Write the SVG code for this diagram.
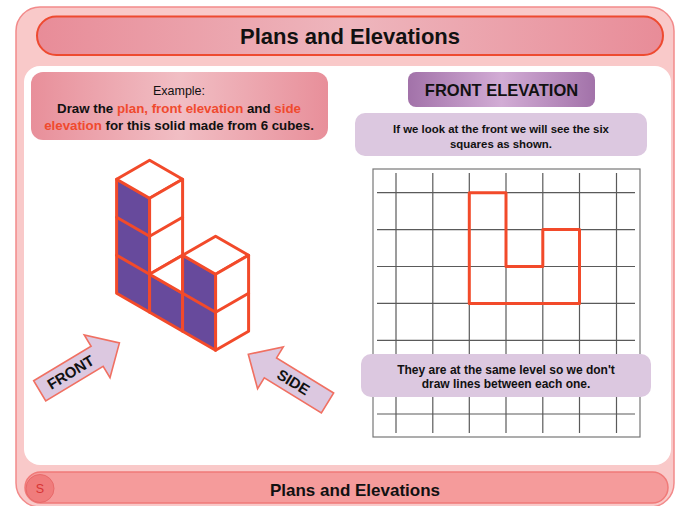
<svg xmlns="http://www.w3.org/2000/svg" width="675" height="506" viewBox="0 0 675 506">
  <defs>
    <linearGradient id="pinkBar" x1="0" y1="0" x2="1" y2="0">
      <stop offset="0" stop-color="#e88c98"/>
      <stop offset="0.5" stop-color="#eeb6bd"/>
      <stop offset="1" stop-color="#e88c98"/>
    </linearGradient>
    <linearGradient id="pinkBox" x1="0" y1="0" x2="1" y2="0">
      <stop offset="0" stop-color="#e88f9a"/>
      <stop offset="0.5" stop-color="#f1bec4"/>
      <stop offset="1" stop-color="#e88f9a"/>
    </linearGradient>
    <linearGradient id="purpleBar" x1="0" y1="0" x2="1" y2="0">
      <stop offset="0" stop-color="#a272a9"/>
      <stop offset="0.5" stop-color="#d2acd5"/>
      <stop offset="1" stop-color="#a272a9"/>
    </linearGradient>
    <style>
      .sans { font-family: "Liberation Sans", Arial, sans-serif; }
      .b { font-weight: bold; }
      .hl { fill: #f04a2e; }
      .face-front { fill: #674a9c; }
      .face-white { fill: #ffffff; }
      .edge { stroke: #f24a2a; stroke-width: 3; stroke-linejoin: round; stroke-linecap: round; fill: none; }
      .cube { stroke: #f24a2a; stroke-width: 3; stroke-linejoin: round; }
      .note { fill: #dcc8e0; }
      .grid line { stroke: #5a5a5a; stroke-width: 1.2; }
      .view-arrow { fill: #dcc8e0; stroke: #f07062; stroke-width: 1.6; stroke-linejoin: miter; }
    </style>
  </defs>

  <!-- outer frame -->
  <rect x="16" y="7" width="658" height="500" rx="24" fill="#f9c9c9" stroke="#f28a8a" stroke-width="1.5"/>
  <!-- white content panel -->
  <rect x="24" y="66" width="647" height="399" rx="16" fill="#ffffff"/>

  <!-- title bar -->
  <g id="title">
    <rect x="37" y="16.5" width="626" height="38.5" rx="19.25" fill="url(#pinkBar)" stroke="#ee4a30" stroke-width="2"/>
    <text x="350" y="44" text-anchor="middle" class="sans b" font-size="22" fill="#111">Plans and Elevations</text>
  </g>

  <!-- task statement -->
  <g id="example">
    <rect x="31" y="72" width="297" height="68" rx="12" fill="url(#pinkBox)"/>
    <text x="179" y="95" text-anchor="middle" class="sans" font-size="12.5" fill="#111">Example:</text>
    <text x="179" y="112.5" text-anchor="middle" class="sans b" font-size="13.3" fill="#111">Draw the <tspan class="hl">plan, front elevation</tspan> and <tspan class="hl">side</tspan></text>
    <text x="179" y="130" text-anchor="middle" class="sans b" font-size="13.3" fill="#111"><tspan class="hl">elevation</tspan> for this solid made from 6 cubes.</text>
  </g>

  <!-- solid of 6 cubes, isometric -->
  <g id="solid">
    <!-- tall column (3 cubes) -->
    <polygon class="cube face-front" points="116.6,293.2 149.6,312.2 149.6,198.2 116.6,179.2"/>
    <polygon class="cube face-white" points="116.6,179.2 149.6,198.2 182.6,179.2 149.6,160.2"/>
    <polygon class="cube face-white" points="149.6,274.2 182.6,255.2 182.6,179.2 149.6,198.2"/>
    <line class="edge" x1="116.6" y1="255.2" x2="149.6" y2="274.2"/>
    <line class="edge" x1="116.6" y1="217.2" x2="149.6" y2="236.2"/>
    <line class="edge" x1="149.6" y1="236.2" x2="182.6" y2="217.2"/>
    <!-- single cube -->
    <polygon class="cube face-front" points="149.6,312.2 182.6,331.2 182.6,293.2 149.6,274.2"/>
    <polygon class="cube face-white" points="149.6,274.2 182.6,293.2 182.6,255.2"/>
    <!-- column of 2 cubes -->
    <polygon class="cube face-front" points="182.6,331.2 215.6,350.2 215.6,274.2 182.6,255.2"/>
    <polygon class="cube face-white" points="182.6,255.2 215.6,274.2 248.6,255.2 215.6,236.2"/>
    <polygon class="cube face-white" points="215.6,350.2 248.6,331.2 248.6,255.2 215.6,274.2"/>
    <line class="edge" x1="182.6" y1="293.2" x2="215.6" y2="312.2"/>
    <line class="edge" x1="215.6" y1="312.2" x2="248.6" y2="293.2"/>
  </g>

  <!-- viewing direction arrows -->
  <g id="connectors">
    <g id="front-arrow" transform="translate(39.7,390.8) rotate(-31)">
      <polygon class="view-arrow" points="0,-11.7 67,-11.7 67,-25 93,0 67,25 67,11.7 0,11.7"/>
      <text x="36" y="5.3" text-anchor="middle" class="sans b" font-size="15" fill="#111">FRONT</text>
    </g>
    <g id="side-arrow" transform="translate(327.5,403) rotate(31.6)">
      <polygon class="view-arrow" points="0,-11.7 -67,-11.7 -67,-24.5 -93,0 -67,24.5 -67,11.7 0,11.7"/>
      <text x="-40" y="5.3" text-anchor="middle" class="sans b" font-size="15" fill="#111">SIDE</text>
    </g>
  </g>

  <!-- heading -->
  <g id="front-elevation-heading">
    <rect x="408" y="72" width="187" height="35" rx="8" fill="url(#purpleBar)"/>
    <text x="501.5" y="96" text-anchor="middle" class="sans b" font-size="16.5" fill="#111">FRONT ELEVATION</text>
  </g>

  <g id="note-top">
    <rect x="355" y="113" width="292" height="43" rx="10" class="note"/>
    <text x="501" y="132.5" text-anchor="middle" class="sans b" font-size="11.4" fill="#111">If we look at the front we will see the six</text>
    <text x="501" y="148" text-anchor="middle" class="sans b" font-size="11.4" fill="#111">squares as shown.</text>
  </g>

  <!-- squared grid with the front elevation -->
  <g id="grid" class="grid">
    <rect x="373" y="169" width="267" height="268" fill="#ffffff" stroke="#777" stroke-width="1.2"/>
    <line x1="396" y1="173" x2="396" y2="433"/>
    <line x1="432.8" y1="173" x2="432.8" y2="433"/>
    <line x1="469.3" y1="173" x2="469.3" y2="433"/>
    <line x1="506" y1="173" x2="506" y2="433"/>
    <line x1="542.8" y1="173" x2="542.8" y2="433"/>
    <line x1="579.5" y1="173" x2="579.5" y2="433"/>
    <line x1="616.5" y1="173" x2="616.5" y2="433"/>
    <line x1="377" y1="192.7" x2="635" y2="192.7"/>
    <line x1="377" y1="229.6" x2="635" y2="229.6"/>
    <line x1="377" y1="266.5" x2="635" y2="266.5"/>
    <line x1="377" y1="303.4" x2="635" y2="303.4"/>
    <line x1="377" y1="340.3" x2="635" y2="340.3"/>
    <line x1="377" y1="377.2" x2="635" y2="377.2"/>
    <line x1="377" y1="414" x2="635" y2="414"/>
  </g>
  <g id="elevation-outline">
    <polygon points="469.3,192.7 506,192.7 506,266.5 542.8,266.5 542.8,229.6 579.5,229.6 579.5,303.4 469.3,303.4" fill="none" stroke="#f24a2a" stroke-width="3" stroke-linejoin="round"/>
  </g>

  <g id="note-bottom">
    <rect x="361" y="354" width="290" height="43" rx="10" class="note"/>
    <text x="506" y="373.5" text-anchor="middle" class="sans b" font-size="12" fill="#111">They are at the same level so we don't</text>
    <text x="506" y="387.5" text-anchor="middle" class="sans b" font-size="12" fill="#111">draw lines between each one.</text>
  </g>

  <!-- footer bar -->
  <g id="footer">
    <rect x="25" y="472" width="643" height="31" rx="15.5" fill="#f59b9b" stroke="#f07a78" stroke-width="1.5"/>
    <circle cx="40" cy="488.5" r="14" fill="#f07c7c" stroke="#e86a6a" stroke-width="1"/>
    <text x="40" y="493" text-anchor="middle" class="sans" font-size="12.5" fill="#d83434">S</text>
    <text x="355" y="496" text-anchor="middle" class="sans b" font-size="17" fill="#111">Plans and Elevations</text>
  </g>
</svg>
